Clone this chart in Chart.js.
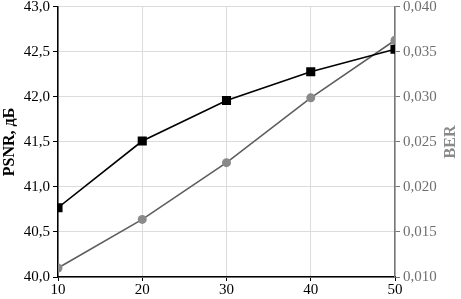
<!DOCTYPE html>
<html>
<head>
<meta charset="utf-8">
<script src="https://cdn.jsdelivr.net/npm/chart.js@4"></script>
<style>
  html, body { margin: 0; padding: 0; background: #fff; }
  #wrap { width: 461px; height: 299px; }
</style>
</head>
<body>
<div id="wrap"><canvas id="chart" width="461" height="299"></canvas></div>
<script>
// данные
const xValues = [10, 20, 30, 40, 50];
const psnrValues = [40.77, 41.51, 41.96, 42.28, 42.53];
const berValues = [0.0110, 0.0164, 0.0227, 0.0299, 0.0363];
const psnrTicks = [40.0, 40.5, 41.0, 41.5, 42.0, 42.5, 43.0];
const berTicks = [0.010, 0.015, 0.020, 0.025, 0.030, 0.035, 0.040];

const FONT = "'Liberation Serif', 'DejaVu Serif', serif";
const GRID = '#dcdcdc';

// подпись правой оси, читается снизу вверх как и левая
const berTitle = {
    id: 'berTitle',
    afterDraw(chart) {
        const ctx = chart.ctx;
        const area = chart.chartArea;
        ctx.save();
        ctx.translate(451, (area.top + area.bottom) / 2);
        ctx.rotate(-Math.PI / 2);
        ctx.font = 'bold 16px ' + FONT;
        ctx.fillStyle = '#8a8a8a';
        ctx.textAlign = 'center';
        ctx.textBaseline = 'middle';
        ctx.fillText('BER', 0, 0);
        ctx.restore();
    }
};

new Chart(document.getElementById('chart'), {
    type: 'line',
    data: {
        datasets: [{
            label: 'PSNR',
            data: xValues.map((x, i) => ({ x: x, y: psnrValues[i] })),
            yAxisID: 'y',
            borderColor: '#000',
            backgroundColor: '#000',
            borderWidth: 1.6,
            pointStyle: 'rect',
            pointRadius: 5.3,
            pointHoverRadius: 5.3,
            tension: 0
        }, {
            label: 'BER',
            data: xValues.map((x, i) => ({ x: x, y: berValues[i] })),
            yAxisID: 'y1',
            borderColor: '#5e5e5e',
            backgroundColor: '#8a8a8a',
            borderWidth: 1.6,
            pointStyle: 'circle',
            pointRadius: 4.5,
            pointHoverRadius: 4.5,
            pointBorderWidth: 0,
            tension: 0
        }]
    },
    options: {
        responsive: false,
        animation: false,
        layout: { padding: 0 },
        plugins: { legend: { display: false }, tooltip: { enabled: false } },
        scales: {
            x: {
                type: 'linear',
                min: 10,
                max: 50,
                afterBuildTicks: s => { s.ticks = xValues.map(v => ({ value: v })); },
                grid: { color: GRID, tickLength: 4, tickColor: '#000' },
                border: { color: '#000', width: 1.5 },
                ticks: { color: '#000', font: { family: FONT, size: 15 }, padding: 0, maxRotation: 0 },
                afterFit: s => { s.height = 22; s.paddingLeft = 0; s.paddingRight = 0; }
            },
            y: {
                position: 'left',
                min: 40,
                max: 43,
                afterBuildTicks: s => { s.ticks = psnrTicks.map(v => ({ value: v })); },
                grid: { color: GRID, tickLength: 5, tickColor: '#000' },
                border: { color: '#000', width: 1.5 },
                ticks: {
                    color: '#000',
                    font: { family: FONT, size: 15 },
                    padding: 3,
                    callback: v => v.toFixed(1).replace('.', ',')
                },
                title: {
                    display: true,
                    text: 'PSNR, дБ',
                    color: '#000',
                    font: { family: FONT, size: 16, weight: 'bold' },
                    padding: { top: 0, bottom: 2 }
                },
                afterFit: s => { s.width = 58; s.paddingTop = 5; s.paddingBottom = 0; }
            },
            y1: {
                position: 'right',
                min: 0.010,
                max: 0.040,
                afterBuildTicks: s => { s.ticks = berTicks.map(v => ({ value: v })); },
                grid: { drawOnChartArea: false, tickLength: 5, tickColor: '#777' },
                border: { color: '#777', width: 1.5 },
                ticks: {
                    color: '#6f6f6f',
                    font: { family: FONT, size: 15 },
                    padding: 3,
                    callback: v => v.toFixed(3).replace('.', ',')
                },
                afterFit: s => { s.width = 66; s.paddingTop = 5; s.paddingBottom = 0; }
            }
        }
    },
    plugins: [berTitle]
});
</script>
</body>
</html>
